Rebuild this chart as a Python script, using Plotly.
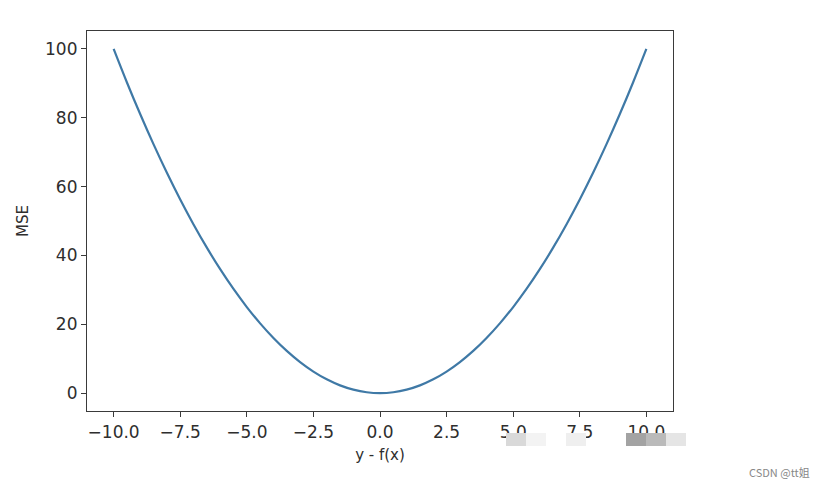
import plotly.graph_objects as go

# error values y - f(x) and the squared error
errors = [-10.0, -9.5, -9.0, -8.5, -8.0, -7.5, -7.0, -6.5, -6.0, -5.5, -5.0,
          -4.5, -4.0, -3.5, -3.0, -2.5, -2.0, -1.5, -1.0, -0.5, 0.0,
          0.5, 1.0, 1.5, 2.0, 2.5, 3.0, 3.5, 4.0, 4.5, 5.0,
          5.5, 6.0, 6.5, 7.0, 7.5, 8.0, 8.5, 9.0, 9.5, 10.0]
mse = [100.0, 90.25, 81.0, 72.25, 64.0, 56.25, 49.0, 42.25, 36.0, 30.25, 25.0,
       20.25, 16.0, 12.25, 9.0, 6.25, 4.0, 2.25, 1.0, 0.25, 0.0,
       0.25, 1.0, 2.25, 4.0, 6.25, 9.0, 12.25, 16.0, 20.25, 25.0,
       30.25, 36.0, 42.25, 49.0, 56.25, 64.0, 72.25, 81.0, 90.25, 100.0]

x_ticks = [-10.0, -7.5, -5.0, -2.5, 0.0, 2.5, 5.0, 7.5, 10.0]
x_tick_text = ["\u221210.0", "\u22127.5", "\u22125.0", "\u22122.5", "0.0", "2.5", "5.0", "7.5", "10.0"]
y_ticks = [0, 20, 40, 60, 80, 100]

text_color = "#2e2e2e"
font = dict(family="DejaVu Sans", size=17, color=text_color)

fig = go.Figure()
fig.add_trace(go.Scatter(
    x=errors,
    y=mse,
    mode="lines",
    line=dict(color="#3f79a6", width=2.2, shape="spline"),
    showlegend=False
))

axis_common = dict(
    showline=True, mirror=True, linecolor="#3a3a3a", linewidth=1.2,
    showgrid=False, zeroline=False,
    ticks="outside", ticklen=5, tickwidth=1.2, tickcolor="#3a3a3a",
    tickfont=font
)

fig.update_xaxes(
    range=[-11, 11], tickvals=x_ticks, ticktext=x_tick_text,
    title=dict(text="y - f(x)", font=dict(family="DejaVu Sans", size=15, color=text_color), standoff=8),
    **axis_common
)
fig.update_yaxes(
    range=[-5.2, 105.2], tickvals=y_ticks,
    title=dict(text="MSE", font=dict(family="DejaVu Sans", size=15, color=text_color), standoff=12),
    **axis_common
)

# blurred patches over the lower tick labels, and the site watermark
patches = [(506, 526, "#d9d9d9"), (526, 546, "#f3f3f3"), (566, 586, "#efefef"),
           (626, 646, "#a3a3a3"), (646, 666, "#bababa"), (666, 686, "#e5e5e5")]
shapes = []
for x0, x1, c in patches:
    shapes.append(dict(type="rect", xref="paper", yref="paper",
                       x0=(x0 - 87) / 586, x1=(x1 - 87) / 586,
                       y0=-(446 - 411) / 380, y1=-(433 - 411) / 380,
                       fillcolor=c, line=dict(width=0), layer="above"))

# page body adds an 8px offset, so the figure is 816x480
fig.update_layout(
    width=816, height=480,
    margin=dict(l=79, r=151, t=23, b=77),
    paper_bgcolor="white", plot_bgcolor="white",
    shapes=shapes,
    annotations=[dict(text="CSDN @tt姐", xref="paper", yref="paper",
                      x=(812 - 87) / 586, y=-(472 - 411) / 380,
                      xanchor="right", yanchor="middle", showarrow=False,
                      font=dict(family="Noto Sans CJK SC", size=11, color="#888888"))]
)

fig.write_html("out.html")
